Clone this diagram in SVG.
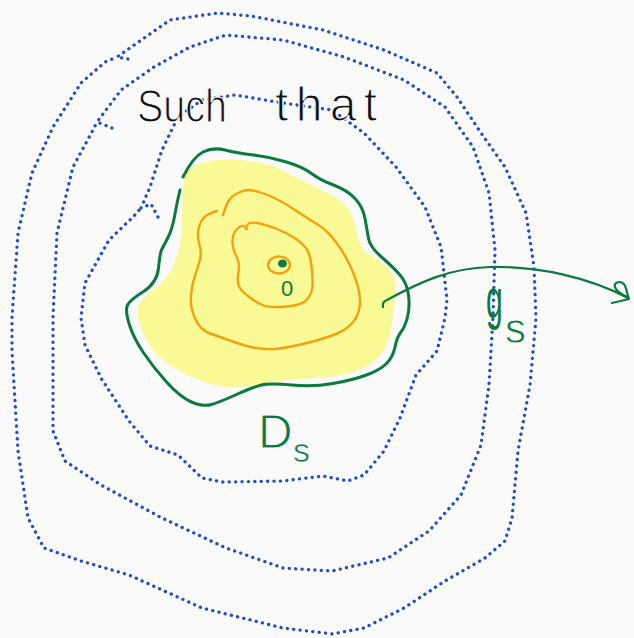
<svg xmlns="http://www.w3.org/2000/svg" width="634" height="638" viewBox="0 0 634 638">
<style>
.dot{fill:none;stroke:#1f4fc4;stroke-width:3.3;stroke-linecap:round;stroke-linejoin:round;stroke-dasharray:0.1 6.3}
.grn{fill:none;stroke:#0b7a3e;stroke-width:3;stroke-linecap:round;stroke-linejoin:round}
.org{fill:none;stroke:#f7a10a;stroke-width:2.4;stroke-linecap:round;stroke-linejoin:round}
.hand{font-family:"Liberation Sans",Arial,sans-serif}
.thin{stroke:#fafafa;stroke-width:1.2}
.gtx{fill:#0b7a3e}
</style>
<rect width="634" height="638" fill="#fafafa"/>
<g id="level-sets">
<path id="outer-dotted" class="dot" d="M128,59 L117,57 L137,43 L170,20 L218,13 L251,16 L323,30 L384,50 L437,73 L457,97 L481,133 L505,167 L526,213 L534,267 L536,318 L530,385 L518,451 L512,518 L505,541 L485,558 L445,581 L404,608 L364,628 L332,634 L283,628 L202,608 L129,575 L81,561 L44,548 L28,518 L18,451 L12,351 L12,317 L18,233 L32,173 L53,127 L81,83 L105,62 L117,57"/>
<path id="middle-dotted" class="dot" d="M112,128 L97,122 L121,90 L154,67 L190,47 L226,35 L283,40 L344,57 L404,80 L445,107 L473,147 L489,193 L495,250 L493,317 L489,385 L481,445 L461,495 L429,531 L388,558 L332,571 L283,568 L226,548 L162,518 L101,485 L65,461 L53,431 L53,351 L53,317 L57,233 L73,167 L93,130 L97,122"/>
<path id="inner-dotted" class="dot" d="M158,217 L151,204 L141,208 L150,187 L162,150 L178,117 L202,100 L235,95 L283,103 L332,110 L364,133 L396,167 L425,207 L441,247 L447,300 L445,318 L437,351 L416,375 L400,418 L384,451 L364,475 L348,481 L323,476 L283,481 L222,482 L202,478 L178,455 L150,446 L129,421 L101,378 L85,345 L81,318 L85,283 L109,240 L133,217 L141,208"/>
</g>
<g id="region-Ds">
<path id="yellow-fill" fill="#f9f996" d="M185,175 Q187,167 203.5,162.5 Q220,158 245,160.5 Q270,163 285,171.5 Q300,180 318.5,188.5 Q337,197 345,205 Q353,213 356.5,231.5 Q360,250 370,255 Q380,260 388.5,268.5 Q397,277 395,298.5 Q393,320 390,333.5 Q387,347 378.5,357 Q370,367 353.5,372 Q337,377 308.5,378.5 Q280,380 263.5,383.5 Q247,387 233.5,387.5 Q220,388 200,380.5 Q180,373 165,361.5 Q150,350 142.5,331.5 Q135,313 139,305 Q143,297 155,288.5 Q167,280 173.5,265 Q180,250 181,235 Q182,220 182.5,201.5 Q183,183 185,175 Z"/>
<path id="orange-outer" class="org" d="M217,211 Q207,214 203.5,218 Q200,222 198.5,229.5 Q197,237 199.5,245 Q202,253 199.5,261.5 Q197,270 194.5,277.5 Q192,285 191,296 Q190,307 195,318.5 Q200,330 210,333.5 Q220,337 228.5,340 Q237,343 245,345.5 Q253,348 265,349 Q277,350 298.5,345 Q320,340 333.5,335 Q347,330 353.5,321.5 Q360,313 360,301.5 Q360,290 353.5,273.5 Q347,257 337,243.5 Q327,230 318.5,225 Q310,220 295,210 Q280,200 270,196 Q260,192 253.5,190.5 Q247,189 240,192 Q233,195 230,199 Q227,203 225,209 L223,215"/>
<path id="orange-middle" class="org" d="M247,229 Q244,225 240.5,226.5 Q237,228 234.5,232.5 Q232,237 232.5,243.5 Q233,250 236.5,256.5 Q240,263 238.5,271.5 Q237,280 238.5,285 Q240,290 248.5,296.5 Q257,303 263.5,305.5 Q270,308 286.5,306.5 Q303,305 307.5,299 Q312,293 312.5,286.5 Q313,280 311.5,266.5 Q310,253 306,248 Q302,243 294.5,238 Q287,233 277,229 Q267,225 259.5,223.5 Q252,222 249.5,223 Q247,224 246,229"/>
<ellipse id="orange-inner" class="org" cx="279" cy="265" rx="11" ry="8.5"/>
<ellipse id="origin-dot" cx="282.5" cy="263.5" rx="4.5" ry="4" fill="#0b7a3e"/>
<path id="green-boundary" class="grn" d="M183,177 Q193,157 203,152 Q213,147 225,150 Q237,153 253.5,155 Q270,157 286.5,162 Q303,167 311.5,173.5 Q320,180 333.5,185 Q347,190 355,198.5 Q363,207 365,218.5 Q367,230 368.5,238.5 Q370,247 381.5,257 Q393,267 400,275 Q407,283 408.5,295 Q410,307 407.5,317 Q405,327 401,332 Q397,337 395,347 Q393,357 386.5,363.5 Q380,370 366.5,375 Q353,380 333,383.5 Q313,387 291.5,385 Q270,383 261.5,385 Q253,387 236.5,394.5 Q220,402 211.5,404.5 Q203,407 191.5,402 Q180,397 166.5,382 Q153,367 143,352 Q133,337 129,323.5 Q125,310 127.5,305 Q130,300 143.5,291.5 Q157,283 158.5,268 Q160,253 161.5,250 Q163,247 167.5,238.5 Q172,230 174.5,216.5 Q177,203 178.5,196.5 L180,190"/>
</g>
<g id="connectors">
<path id="map-arrow" class="grn" style="stroke-width:2.2" d="M383,307 Q382,302 387,300 C420,282 450,268 490,267 C540,266 590,278 628,298"/>
<path id="map-arrowhead" class="grn" style="stroke-width:2.2" d="M612,303 L629,299 C626,292 627,283 620,282 C612,282 612,290 627,297"/>
</g>
<g id="labels">
<text class="hand thin" x="137" y="122" font-size="46" textLength="90" lengthAdjust="spacingAndGlyphs" fill="#111">Such</text>
<text class="hand thin" x="275" y="121" font-size="48" textLength="102" lengthAdjust="spacing" fill="#111">that</text>
<text class="hand gtx" x="287" y="296" font-size="22" text-anchor="middle">0</text>
<text class="hand gtx thin" x="258" y="448" font-size="48" style="stroke-width:1">D</text>
<text class="hand gtx thin" x="293" y="462" font-size="34" style="stroke-width:0.6">s</text>
<text class="hand gtx" font-size="40" transform="translate(486,318) scale(0.75,1.4)">g</text>
<text class="hand gtx thin" x="505" y="343" font-size="42" style="stroke-width:0.8">s</text>
</g>
</svg>
